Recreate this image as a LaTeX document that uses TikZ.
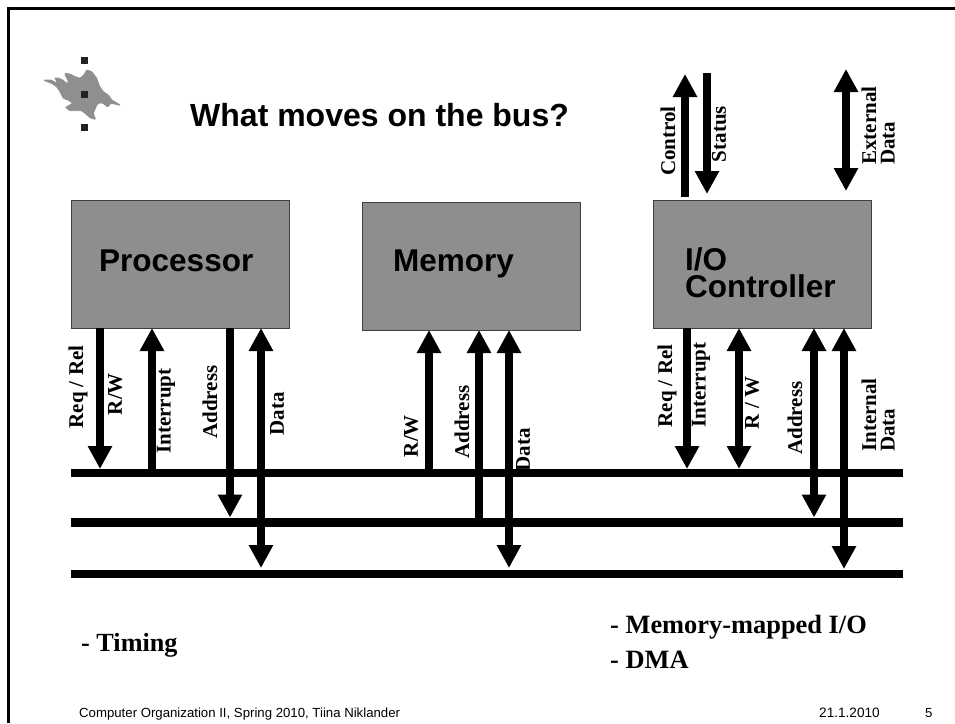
\documentclass[tikz,border=0pt]{standalone}
\usepackage{fontspec}
\setmainfont{Liberation Serif}
\newfontfamily\arialfont{Liberation Sans}
\usetikzlibrary{arrows.meta}
\definecolor{boxgray}{HTML}{8E8E8E}
\definecolor{boxedge}{HTML}{404040}
\definecolor{flamegray}{HTML}{8F8F8F}
\definecolor{dotgray}{HTML}{222222}
\tikzset{
  blockbox/.style={draw=boxedge,line width=1pt,fill=boxgray,minimum width=218pt,minimum height=128pt,anchor=north west,outer sep=0pt,inner sep=0pt},
  busline/.style={fill=black,minimum width=832pt,anchor=west,outer sep=0pt,inner sep=0pt},
  down/.style={line width=8pt,-{Triangle[width=23pt,length=23pt]}},
  up/.style={line width=8pt,{Triangle[width=23pt,length=23pt]}-},
  both/.style={line width=8pt,{Triangle[width=23pt,length=23pt]}-{Triangle[width=23pt,length=23pt]}},
  siglabel/.style={rotate=90,inner sep=0pt,font=\bfseries\fontsize{21}{18.5}\selectfont,align=left},
  blocktext/.style={anchor=base west,inner sep=0pt,font=\arialfont\bfseries\fontsize{31.5}{27}\selectfont,align=left,text=black},
  dotmark/.style={fill=dotgray,minimum size=7pt,inner sep=0pt,outer sep=0pt},
  foot/.style={anchor=base west,inner sep=0pt,font=\arialfont\fontsize{13.2}{15}\selectfont},
}
\begin{document}
\begin{tikzpicture}[x=1pt,y=-1pt]
\useasboundingbox (0,0) rectangle (955,723);
% frame
\draw[line width=3pt] (8,723) -- (8,8) -- (955,8);
% logo
\filldraw[flamegray,line width=0.9pt,line join=round,rounded corners=0.8pt]
 (43.8,80.3) -- (47.3,80) -- (51,80) -- (54,81.7) -- (56.7,83.3) -- (56,79.3) -- (54.5,78) -- (58.3,78) -- (62.7,80) -- (67.3,84) -- (68.3,80.7) -- (66,76.7) -- (64.8,73.5) -- (70,74) -- (75,76.7) -- (80,78.3) -- (84,75) -- (86.7,70) -- (91.7,71.7) -- (96.7,78.3) -- (99.3,86) -- (103.3,91.7) -- (108.3,95) -- (111.7,100) -- (120.5,105.3) -- (115,104) -- (110.7,103.3) -- (107.7,107) -- (103.3,103.3) -- (99.3,102.7) -- (96.7,105) -- (93.3,113.3) -- (95.5,119.5) -- (90,117.7) -- (86,114) -- (81.7,110.7) -- (76.7,110.7) -- (70,110.7) -- (65.5,107.3) -- (70,105) -- (72.7,103.3) -- (68.3,100) -- (63.3,98.3) -- (60,91.7) -- (56.7,86.7) -- (51.7,83.3) -- cycle;
\node[dotmark] (dotA) at (84,60.5) {};
\node[dotmark] (dotB) at (84,94) {};
\node[dotmark] (dotC) at (84,127) {};
% title
\node[anchor=base west,inner sep=0pt,font=\arialfont\bfseries\fontsize{32}{36}\selectfont] (title) at (190,126) {What moves on the bus?};
% blocks
\node[blockbox] (proc) at (71,200) {};
\node[blockbox] (mem) at (362,202) {};
\node[blockbox] (io) at (653,200) {};
\node[blocktext] (procT) at (99,271) {Processor};
\node[blocktext] (memT) at (393,271) {Memory};
\node[blocktext] (ioT) at (685,297) {I/O\\Controller};
% labels behind the buses
\node[siglabel] (lReq) at (78,387) {Req / Rel};
\node[siglabel] (lRW) at (115,394) {R/W};
\node[siglabel] (lInt) at (166,411) {Interrupt};
\node[siglabel] (lAddr) at (210,402) {Address};
\node[siglabel] (lData) at (277,414) {Data};
\node[siglabel] (mRW) at (411,436) {R/W};
\node[siglabel] (mAddr) at (462,422) {Address};
\node[siglabel] (mData) at (523,450) {Data};
\node[siglabel] (iReq) at (667,386) {Req / Rel};
\node[siglabel] (iInt) at (701,385) {Interrupt};
\node[siglabel] (iRW) at (752,403) {R / W};
\node[siglabel] (iAddr) at (795,418) {Address};
\node[siglabel,anchor=south west] (iData) at (895,452) {Internal\\Data};
\node[siglabel] (tCtl) at (668,141) {Control};
\node[siglabel] (tSts) at (719,134) {Status};
\node[siglabel,anchor=south west] (tExt) at (895,165) {External\\Data};
% buses
\node[busline,minimum height=8pt] (busA) at (71,473) {};
\node[busline,minimum height=9pt] (busB) at (71,522) {};
\node[busline,minimum height=8pt] (busC) at (71,574) {};
% processor connectors
\draw[down] (100,0 |- proc.south) -- (100,0 |- busA.north);
\draw[up] (152,0 |- proc.south) -- (152,0 |- busA.north);
\draw[down] (230,0 |- proc.south) -- (230,0 |- busB.north);
\draw[both,shorten >=2pt] (261,0 |- proc.south) -- (261,0 |- busC.north);
% memory connectors
\draw[up] (429,0 |- mem.south) -- (429,0 |- busA.north);
\draw[up] (479,0 |- mem.south) -- (479,0 |- busB.north);
\draw[both,shorten >=2pt] (509,0 |- mem.south) -- (509,0 |- busC.north);
% controller connectors
\draw[down] (687,0 |- io.south) -- (687,0 |- busA.north);
\draw[both] (739,0 |- io.south) -- (739,0 |- busA.north);
\draw[both] (814,0 |- io.south) -- (814,0 |- busB.north);
\draw[both,shorten >=1pt] (844,0 |- io.south) -- (844,0 |- busC.north);
% external connectors
\coordinate (ctlEnd) at (685,74);
\coordinate (stsEnd) at (707,73);
\coordinate (extEnd) at (846,69);
\draw[up,shorten >=3pt] (ctlEnd) -- (ctlEnd |- io.north);
\draw[down,shorten >=6pt] (stsEnd) -- (stsEnd |- io.north);
\draw[both,shorten >=9pt] (extEnd) -- (extEnd |- io.north);
% notes
\node[anchor=base west,inner sep=0pt,font=\bfseries\fontsize{26.2}{28}\selectfont] (timing) at (81,651.5) {- Timing};
\node[anchor=base west,inner sep=0pt,font=\bfseries\fontsize{26.4}{35}\selectfont,align=left] (notes) at (610,668) {- Memory-mapped I/O\\- DMA};
% footer
\node[foot] (f1) at (79,717) {Computer Organization II, Spring 2010, Tiina Niklander};
\node[foot,font=\arialfont\fontsize{13.6}{15}\selectfont] (f2) at (819,717) {21.1.2010};
\node[foot] (f3) at (925,717) {5};
\end{tikzpicture}
\end{document}
